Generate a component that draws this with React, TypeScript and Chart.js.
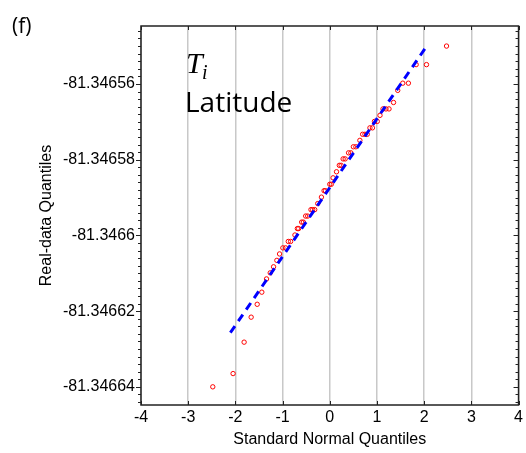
import React, { useEffect, useRef } from "react";
import { Chart, registerables } from "chart.js";

Chart.register(...registerables);

// Theoretical (standard normal) quantiles
const theoreticalQuantiles = [
  -2.479, -2.049, -1.815, -1.666, -1.538, -1.44, -1.34, -1.262, -1.191, -1.121,
  -1.064, -0.994, -0.936, -0.879, -0.83, -0.738, -0.687, -0.66, -0.596, -0.56,
  -0.511, -0.468, -0.398, -0.362, -0.319, -0.255, -0.177, -0.121, -0.091, 0.0,
  0.032, 0.07, 0.143, 0.202, 0.24, 0.283, 0.326, 0.398, 0.447, 0.5,
  0.553, 0.638, 0.696, 0.745, 0.794, 0.851, 0.904, 0.947, 1.006, 1.064,
  1.128, 1.191, 1.255, 1.351, 1.44, 1.547, 1.666, 1.83, 2.049, 2.474,
];

// Sample (real-data) quantiles, latitude in degrees
const sampleQuantiles = [
  -81.34664, -81.3466365, -81.3466282, -81.3466216, -81.3466182, -81.346615, -81.3466115, -81.3466099, -81.3466083, -81.3466066,
  -81.3466049, -81.3466033, -81.3466033, -81.3466016, -81.3466016, -81.3465999, -81.3465982, -81.3465982, -81.3465965, -81.3465965,
  -81.3465949, -81.3465949, -81.3465932, -81.3465932, -81.3465932, -81.3465916, -81.3465899, -81.3465882, -81.3465882, -81.3465865,
  -81.3465865, -81.3465848, -81.3465832, -81.3465815, -81.3465815, -81.3465798, -81.3465798, -81.3465782, -81.3465782, -81.3465766,
  -81.3465766, -81.3465749, -81.3465733, -81.3465733, -81.3465733, -81.3465716, -81.3465716, -81.3465699, -81.3465699, -81.3465683,
  -81.3465666, -81.3465666, -81.3465666, -81.3465649, -81.3465617, -81.3465598, -81.3465598, -81.3465549, -81.3465549, -81.34655,
];

// Reference (fit) line end points
const refLineX = [-2.106, 2.032];
const refLineY = [-81.3466257, -81.3465504];

const xTickValues = [-4, -3, -2, -1, 0, 1, 2, 3, 4];
const yTickValues = [-81.34664, -81.34662, -81.3466, -81.34658, -81.34656];
const yTickLabels = ["-81.34664", "-81.34662", "-81.3466", "-81.34658", "-81.34656"];

const X_MIN = -4;
const X_MAX = 4;
const Y_MIN = -81.3466448;
const Y_MAX = -81.3465447;
const Y_MINOR_STEP = 0.000002;

const panelLabel = "(f)";
const symbolMain = "T";
const symbolSub = "i";
const variableName = "Latitude";
const xTitle = "Standard Normal Quantiles";
const yTitle = "Real-data Quantiles";

const decorPlugin = {
  id: "decor",
  afterDraw(chart: any) {
    const { ctx, chartArea } = chart;
    const { left, right, top, bottom } = chartArea;
    const xs = chart.scales.x;
    const ys = chart.scales.y;
    ctx.save();
    // box
    ctx.strokeStyle = "#222";
    ctx.lineWidth = 1.5;
    ctx.strokeRect(left, top, right - left, bottom - top);
    ctx.lineWidth = 1;
    // x ticks (inward, top and bottom)
    ctx.beginPath();
    for (const v of xTickValues) {
      const px = Math.round(xs.getPixelForValue(v)) + 0.5;
      ctx.moveTo(px, top);
      ctx.lineTo(px, top + 4);
      ctx.moveTo(px, bottom);
      ctx.lineTo(px, bottom - 4);
    }
    // y minor/major ticks
    const start = Math.ceil((Y_MIN + 81.3466) / Y_MINOR_STEP);
    const end = Math.floor((Y_MAX + 81.3466) / Y_MINOR_STEP);
    for (let k = start; k <= end; k++) {
      const v = -81.3466 + k * Y_MINOR_STEP;
      const py = Math.round(ys.getPixelForValue(v)) + 0.5;
      const major = k % 10 === 0;
      const len = major ? 5 : 3;
      ctx.moveTo(left, py);
      ctx.lineTo(left - len, py);
      ctx.moveTo(right, py);
      ctx.lineTo(right - len, py);
    }
    ctx.stroke();

    // texts
    ctx.fillStyle = "#000";
    ctx.textBaseline = "alphabetic";
    ctx.textAlign = "left";
    ctx.font = '21px "Open Sans"';
    ctx.fillText(panelLabel, 12, 33);
    ctx.font = 'italic 30px "Liberation Serif"';
    ctx.fillText(symbolMain, 186, 73);
    ctx.font = 'italic 20px "Liberation Serif"';
    ctx.fillText(symbolSub, 202, 79);
    ctx.font = '28px "Open Sans"';
    ctx.fillText(variableName, 185, 112);
    ctx.restore();
  },
};

export default function App() {
  const canvasRef = useRef<HTMLCanvasElement | null>(null);

  useEffect(() => {
    const canvas = canvasRef.current;
    if (!canvas) return;
    const points = theoreticalQuantiles.map((x, i) => ({ x, y: sampleQuantiles[i] }));
    const line = refLineX.map((x, i) => ({ x, y: refLineY[i] }));
    const chart = new Chart(canvas, {
      type: "scatter",
      data: {
        datasets: [
          {
            data: line,
            showLine: true,
            borderColor: "#0000ff",
            borderWidth: 3,
            borderDash: [8, 6],
            pointRadius: 0,
            fill: false,
          },
          {
            data: points,
            showLine: false,
            pointStyle: "circle",
            pointRadius: 2.2,
            pointBorderWidth: 1,
            borderColor: "#ff0000",
            backgroundColor: "rgba(0,0,0,0)",
            pointBackgroundColor: "rgba(0,0,0,0)",
          },
        ],
      },
      options: {
        responsive: false,
        animation: false,
        events: [],
        layout: { padding: { top: 26, right: 7, left: 0, bottom: 0 } },
        plugins: { legend: { display: false }, tooltip: { enabled: false } },
        scales: {
          x: {
            type: "linear",
            min: X_MIN,
            max: X_MAX,
            afterBuildTicks: (s: any) => {
              s.ticks = xTickValues.map((v) => ({ value: v }));
            },
            afterFit: (s: any) => {
              s.height = 48;
            },
            ticks: {
              color: "#000",
              font: { family: '"Liberation Sans", Arial', size: 16 },
              padding: 3,
              maxRotation: 0,
              callback: (v: any) => String(v),
            },
            grid: {
              display: true,
              drawOnChartArea: true,
              drawTicks: false,
              color: "#c8c8c8",
              lineWidth: 1.5,
            },
            border: { display: false },
            title: {
              display: true,
              text: xTitle,
              color: "#000",
              font: { family: '"Liberation Sans", Arial', size: 16 },
              padding: { top: 0, bottom: 3.4 },
            },
          },
          y: {
            type: "linear",
            min: Y_MIN,
            max: Y_MAX,
            afterBuildTicks: (s: any) => {
              s.ticks = yTickValues.map((v) => ({ value: v }));
            },
            afterFit: (s: any) => {
              s.width = 141;
            },
            ticks: {
              color: "#000",
              font: { family: '"Liberation Sans", Arial', size: 16 },
              padding: 6,
              callback: (_v: any, i: number) => yTickLabels[i],
            },
            grid: { display: true, drawOnChartArea: false, drawTicks: false, color: "rgba(0,0,0,0)" },
            border: { display: false },
            title: {
              display: true,
              text: yTitle,
              color: "#000",
              font: { family: '"Liberation Sans", Arial', size: 16 },
              padding: { top: 37.4, bottom: 0 },
            },
          },
        },
      },
      plugins: [decorPlugin],
    });
    return () => chart.destroy();
  }, []);

  return (
    <div style={{ position: "fixed", left: 0, top: 0, width: 526, height: 453, background: "#fff" }}>
      <canvas ref={canvasRef} width={526} height={453} style={{ display: "block" }} />
    </div>
  );
}
